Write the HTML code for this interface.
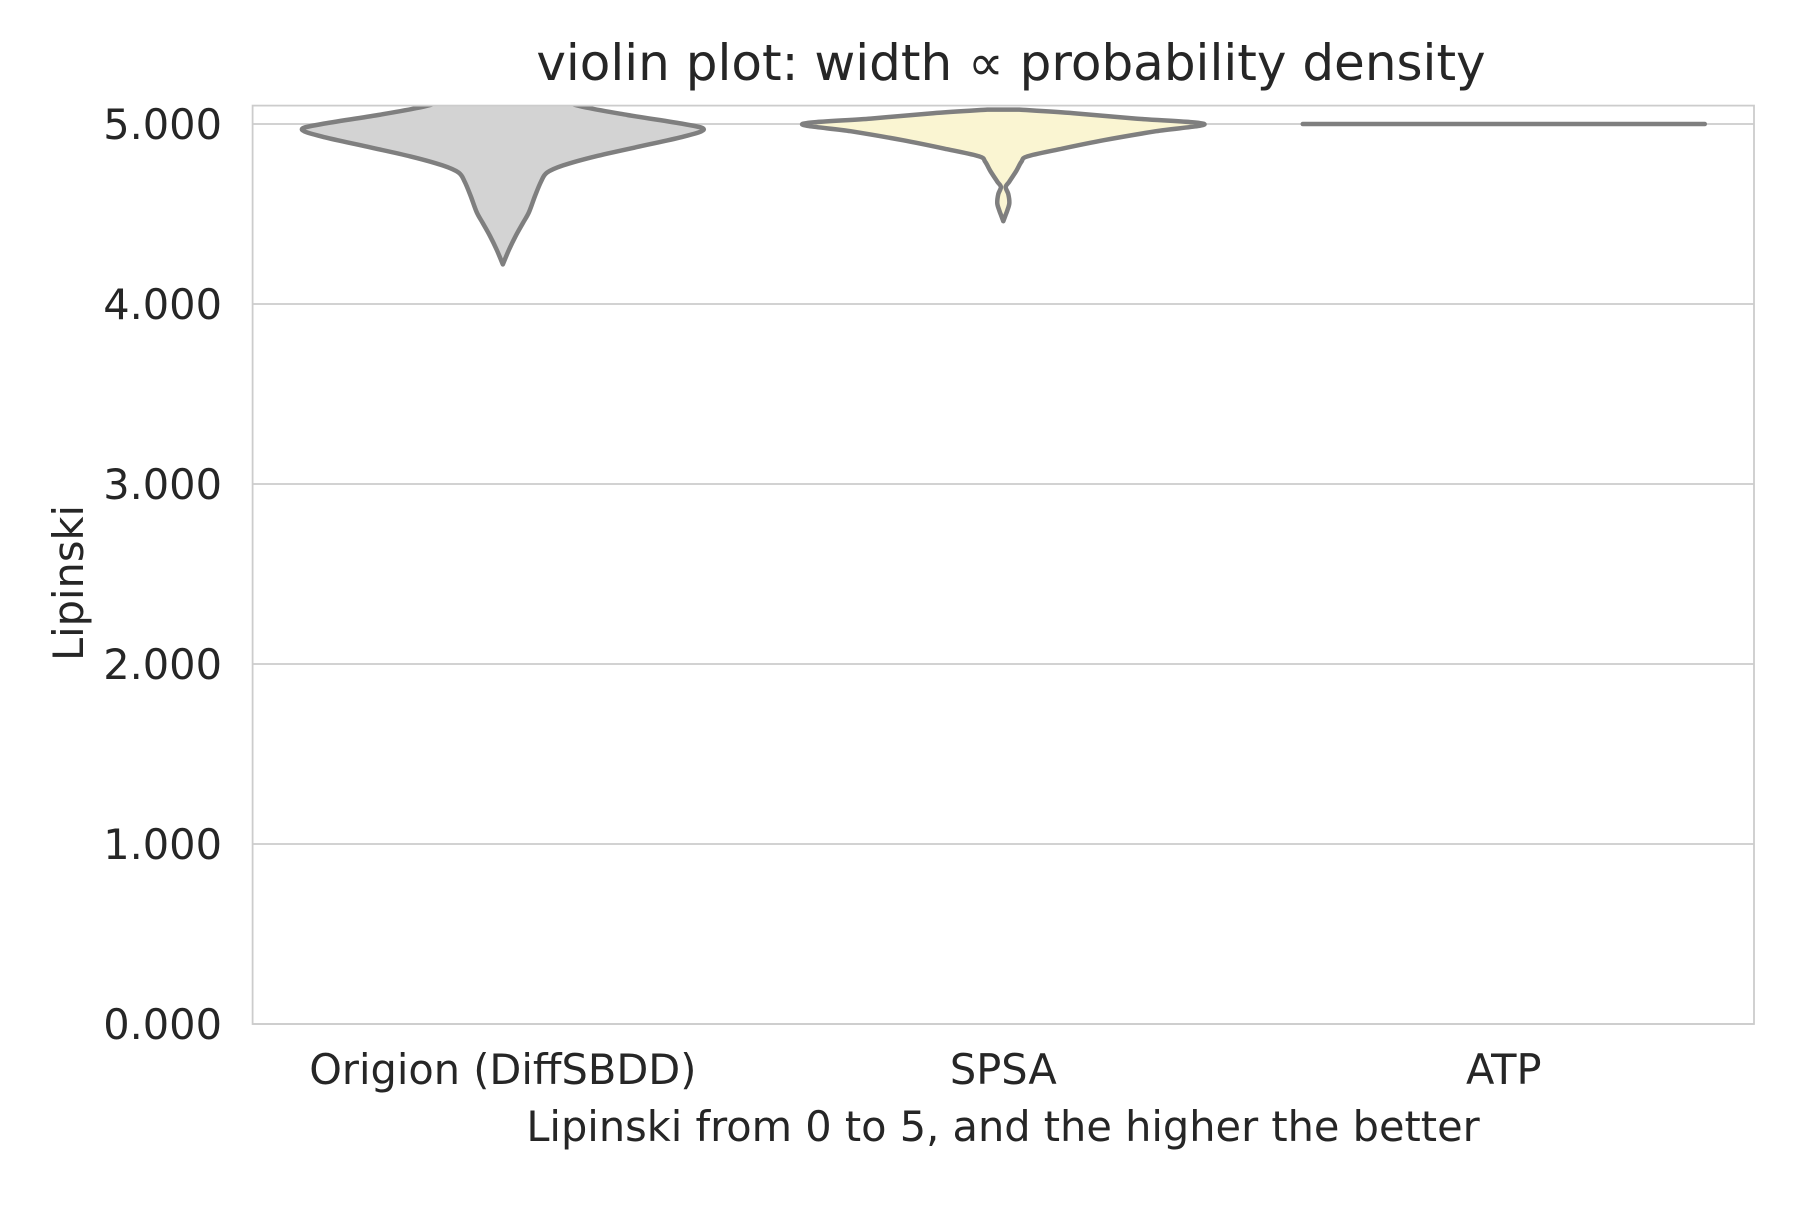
<!DOCTYPE html>
<html><head><meta charset="utf-8"><style>
html,body{margin:0;padding:0;background:#fff;}
svg text{font-family:"DejaVu Sans","Liberation Sans",sans-serif;fill:#262626;}
</style></head><body>
<svg id="chart" width="1800" height="1200" xmlns="http://www.w3.org/2000/svg">
<rect width="1800" height="1200" fill="#fff"/>
<text x="1011" y="80" font-size="50" text-anchor="middle">violin plot: width ∝ probability density</text>
<g id="grid"></g>
<defs><clipPath id="clip"><rect x="252.6" y="105.6" width="1501.4" height="918.4"/></clipPath></defs>
<g id="violins" clip-path="url(#clip)"></g>
<rect x="252.6" y="105.6" width="1501.4" height="918.4" fill="none" stroke="#cccccc" stroke-width="1.8"/>
<g id="yticks"></g>
<g id="xticks"></g>
<text x="1003" y="1141" font-size="41.5" text-anchor="middle">Lipinski from 0 to 5, and the higher the better</text>
<text x="0" y="0" font-size="41.5" text-anchor="middle" transform="translate(83,583) rotate(-90)">Lipinski</text>
</svg>
<script>
const categories = ["Origion (DiffSBDD)", "SPSA", "ATP"];
const yTicks = [0, 1, 2, 3, 4, 5];
const yTickLabels = ["0.000", "1.000", "2.000", "3.000", "4.000", "5.000"];
// density profiles: value levels and relative width (0..1)
const originValues = [5.15, 5.1, 5.05, 5.0, 4.97, 4.93, 4.88, 4.82, 4.77, 4.73, 4.68, 4.6, 4.51, 4.45, 4.38, 4.3, 4.22];
const originDensity = [0.25, 0.38, 0.62, 0.9, 1.0, 0.9, 0.7, 0.46, 0.3, 0.22, 0.19, 0.16, 0.13, 0.1, 0.065, 0.03, 0.0];
const spsaValues = [5.08, 5.06, 5.03, 5.0, 4.96, 4.91, 4.86, 4.82, 4.79, 4.74, 4.68, 4.65, 4.61, 4.56, 4.52, 4.49, 4.46];
const spsaDensity = [0.08, 0.35, 0.66, 1.0, 0.76, 0.5, 0.28, 0.12, 0.09, 0.065, 0.03, 0.012, 0.025, 0.03, 0.02, 0.01, 0.0];
const atpValue = 5.0;
const fills = ["#d3d3d3", "#faf5d2"];

const NS = "http://www.w3.org/2000/svg";
const L = 252.6, R = 1754, Y0 = 1024, PER = 180, maxHalf = 201;
const yScale = v => Y0 - v * PER;
const band = (R - L) / categories.length;
const xCenter = i => L + band * (i + 0.5);

const grid = document.getElementById('grid');
const yt = document.getElementById('yticks');
yTicks.forEach((t, i) => {
  const ln = document.createElementNS(NS, 'line');
  
  
  ln.setAttribute('x1', L); ln.setAttribute('x2', R);
  ln.setAttribute('y1', yScale(t)); ln.setAttribute('y2', yScale(t));
  ln.setAttribute('stroke', '#cccccc'); ln.setAttribute('stroke-width', '1.8');
  grid.appendChild(ln);
  const tx = document.createElementNS(NS, 'text');
  
  
  tx.setAttribute('x', 222); tx.setAttribute('y', yScale(t) + 15);
  tx.setAttribute('font-size', '41.5'); tx.setAttribute('text-anchor', 'end');
  tx.textContent = yTickLabels[i];
  yt.appendChild(tx);
});
const xt = document.getElementById('xticks');
categories.forEach((c, i) => {
  const tx = document.createElementNS(NS, 'text');
  
  
  tx.setAttribute('x', xCenter(i)); tx.setAttribute('y', 1084);
  tx.setAttribute('font-size', '41.5'); tx.setAttribute('text-anchor', 'middle');
  tx.textContent = c;
  xt.appendChild(tx);
});

function spline(pts) {
  let d = `M${pts[0][0]},${pts[0][1]}`;
  for (let i = 0; i < pts.length - 1; i++) {
    const p0 = pts[Math.max(0, i - 1)], p1 = pts[i], p2 = pts[i + 1], p3 = pts[Math.min(pts.length - 1, i + 2)];
    const c1 = [p1[0] + (p2[0] - p0[0]) / 6, p1[1] + (p2[1] - p0[1]) / 6];
    const c2 = [p2[0] - (p3[0] - p1[0]) / 6, p2[1] - (p3[1] - p1[1]) / 6];
    d += ` C${c1[0]},${c1[1]} ${c2[0]},${c2[1]} ${p2[0]},${p2[1]}`;
  }
  return d;
}
const vg = document.getElementById('violins');
function violin(i, vals, dens, fill, name) {
  const cx = xCenter(i);
  const right = vals.map((v, k) => [cx + dens[k] * maxHalf, yScale(v)]);
  const left = vals.map((v, k) => [cx - dens[k] * maxHalf, yScale(v)]).reverse();
  const d = spline(right) + ' L' + spline(left).slice(1) + ' Z';
  const p = document.createElementNS(NS, 'path');
  
  
  p.setAttribute('d', d);
  p.setAttribute('fill', fill); p.setAttribute('stroke', '#7f7f7f');
  p.setAttribute('stroke-width', '4.5'); p.setAttribute('stroke-linejoin', 'round');
  vg.appendChild(p);
}
violin(0, originValues, originDensity, fills[0], 'violin-origion');
violin(1, spsaValues, spsaDensity, fills[1], 'violin-spsa');
const al = document.createElementNS(NS, 'line');


al.setAttribute('x1', xCenter(2) - maxHalf); al.setAttribute('x2', xCenter(2) + maxHalf);
al.setAttribute('y1', yScale(atpValue)); al.setAttribute('y2', yScale(atpValue));
al.setAttribute('stroke', '#7f7f7f'); al.setAttribute('stroke-width', '4.5'); al.setAttribute('stroke-linecap', 'round');
vg.appendChild(al);
</script>
</body></html>
